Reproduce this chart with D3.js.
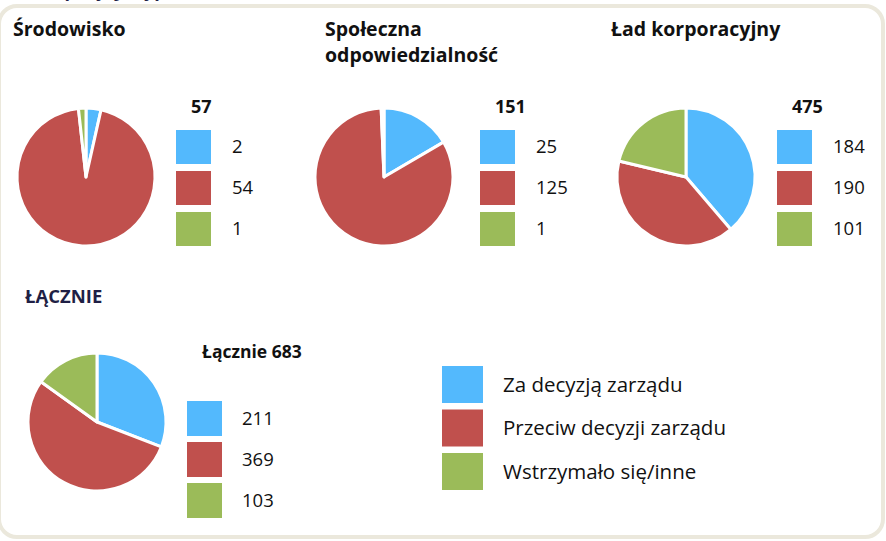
<!DOCTYPE html>
<html>
<head>
<meta charset="utf-8">
<script src="https://cdn.jsdelivr.net/npm/d3@7"></script>
<style>
  body { margin: 0; background: #fff; }
  svg text { font-family: "Open Sans", "Noto Sans", sans-serif; }
</style>
</head>
<body>
<svg id="chart" width="886" height="541"></svg>
<script>
// data
const categories = ["Za decyzją zarządu", "Przeciw decyzji zarządu", "Wstrzymało się/inne"];
const panelTitles = [["Środowisko"], ["Społeczna", "odpowiedzialność"], ["Ład korporacyjny"]];
const srodowisko = [2, 54, 1];
const spoleczna = [25, 125, 1];
const ladKorporacyjny = [184, 190, 101];
const lacznie = [211, 369, 103];
const totals = ["57", "151", "475"];
const totalLabel = "Łącznie 683";
const sectionTitle = "ŁĄCZNIE";

const colors = ["#53b9fd", "#c0504d", "#9bbb59"];
const color = d3.scaleOrdinal().domain(categories).range(colors);

const svg = d3.select("#chart");

// outer frame
svg.append("rect")
  .attr("x", -1).attr("y", 6)
  .attr("width", 884).attr("height", 531)
  .attr("rx", 18)
  .attr("fill", "#fff")
  .attr("stroke", "#ebe8dc")
  .attr("stroke-width", 4);

// heading cut off at the top edge, only descenders show
svg.append("text")
  .attr("x", 34).attr("y", -3)
  .attr("fill", "#1f1f45")
  .attr("font-weight", "bold")
  .attr("font-size", 18)
  .text("Propozycje typu");

const pie = d3.pie().sort(null).value(d => d.v);
const arc = d3.arc().innerRadius(0).outerRadius(69);

function drawPie(values, cx, cy) {
  const g = svg.append("g").attr("transform", `translate(${cx},${cy})`);
  g.selectAll("path")
    .data(pie(values.map((v, i) => ({v: v, c: categories[i]}))))
    .enter()
    .append("path")
    .attr("d", arc)
    .attr("fill", d => color(d.data.c))
    .attr("stroke", "#fff")
    .attr("stroke-width", 3)
    .attr("stroke-linejoin", "round");
}

function drawKey(values, x, y, w, h, step, labelX, fontSize) {
  const g = svg.append("g");
  g.selectAll("rect")
    .data(values)
    .enter()
    .append("rect")
    .attr("x", x)
    .attr("y", (d, i) => y + i * step)
    .attr("width", w)
    .attr("height", h)
    .attr("fill", (d, i) => colors[i]);
  g.selectAll("text")
    .data(values)
    .enter()
    .append("text")
    .attr("x", labelX)
    .attr("y", (d, i) => y + i * step + h / 2)
    .attr("dy", "0.35em")
    .attr("font-size", fontSize)
    .attr("fill", "#111")
    .text(d => d);
}

// top three panels
const panels = [
  {vals: srodowisko, titleX: 13, cx: 86, keyX: 176},
  {vals: spoleczna, titleX: 325, cx: 384, keyX: 480},
  {vals: ladKorporacyjny, titleX: 611, cx: 686, keyX: 777}
];

panels.forEach((p, k) => {
  panelTitles[k].forEach((line, j) => {
    svg.append("text")
      .attr("x", p.titleX).attr("y", 36 + j * 26)
      .attr("font-size", 19.5)
      .attr("font-weight", "bold")
      .attr("fill", "#111")
      .text(line);
  });
  drawPie(p.vals, p.cx, 177);
  svg.append("text")
    .attr("x", p.keyX + 15).attr("y", 113)
    .attr("font-size", 18)
    .attr("font-weight", "bold")
    .attr("fill", "#111")
    .text(totals[k]);
  drawKey(p.vals, p.keyX, 130, 35, 34, 41, p.keyX + 56, 18.5);
});

// ŁĄCZNIE section
svg.append("text")
  .attr("x", 25).attr("y", 303)
  .attr("font-size", 18.5)
  .attr("font-weight", "bold")
  .attr("fill", "#1f1f45")
  .text(sectionTitle);

drawPie(lacznie, 97, 422);

svg.append("text")
  .attr("x", 202).attr("y", 358)
  .attr("font-size", 17.5)
  .attr("font-weight", "bold")
  .attr("fill", "#111")
  .text(totalLabel);

drawKey(lacznie, 187, 401, 35, 35, 41, 242, 18.5);

// legend
const legend = svg.append("g");
legend.selectAll("rect")
  .data(categories)
  .enter()
  .append("rect")
  .attr("x", 442)
  .attr("y", (d, i) => 366 + i * 43.5)
  .attr("width", 41)
  .attr("height", 37)
  .attr("fill", d => color(d));
legend.selectAll("text")
  .data(categories)
  .enter()
  .append("text")
  .attr("x", 503)
  .attr("y", (d, i) => 366 + i * 43.5 + 18.5)
  .attr("dy", "0.35em")
  .attr("font-size", 20.5)
  .attr("fill", "#111")
  .text(d => d);
</script>
</body>
</html>
